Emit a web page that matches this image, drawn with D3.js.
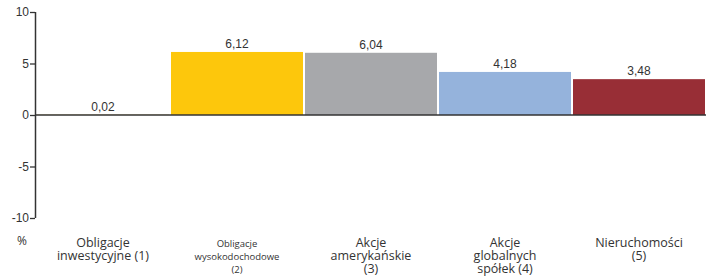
<!DOCTYPE html>
<html>
<head>
  <meta charset="utf-8">
  <title>Stopy zwrotu</title>
  <script src="https://d3js.org/d3.v7.min.js"></script>
  <style>
    body { margin: 0; background: #fff; }
  </style>
</head>
<body>
  <svg width="710" height="277"></svg>
  <script>
    const categories = [
      ["Obligacje", "inwestycyjne (1)"],
      ["Obligacje", "wysokodochodowe", "(2)"],
      ["Akcje", "amerykańskie", "(3)"],
      ["Akcje", "globalnych", "spółek (4)"],
      ["Nieruchomości", "(5)"]
    ];
    const values = [0.02, 6.12, 6.04, 4.18, 3.48];
    const valueLabels = ["0,02", "6,12", "6,04", "4,18", "3,48"];
    const colors = ["#fdc70c", "#fdc70c", "#a7a8ab", "#95b3dc", "#982e36"];
    const labelSizes = [12.5, 9.5, 12.5, 12.5, 12.5];
    const yTicks = [-10, -5, 0, 5, 10];

    const svg = d3.select("svg");
    const ids = d3.range(values.length);

    const x = d3.scaleBand().domain(ids).range([37, 705]).paddingInner(0.015).paddingOuter(0);
    const y = d3.scaleLinear().domain([-10, 10]).range([218, 12]);

    // bars
    svg.selectAll("rect.bar")
      .data(ids)
      .enter()
      .append("rect")
      .attr("class", "bar")
      .attr("x", i => x(i))
      .attr("width", x.bandwidth())
      .attr("y", i => y(Math.max(0, values[i])))
      .attr("height", i => Math.abs(y(values[i]) - y(0)))
      .attr("fill", (i) => colors[i]);

    // value labels
    svg.selectAll("text.val")
      .data(ids)
      .enter()
      .append("text")
      .attr("class", "val")
      .attr("x", i => x(i) + x.bandwidth() / 2)
      .attr("y", i => y(Math.max(0, values[i])) - 4)
      .attr("text-anchor", "middle")
      .attr("font-family", "Liberation Sans, Arial, sans-serif")
      .attr("font-size", 12)
      .attr("fill", "#333")
      .text(i => valueLabels[i]);

    // y axis
    const yAxis = d3.axisLeft(y).tickValues(yTicks).tickSize(5).tickPadding(1)
      .tickFormat(d => String(d));
    const ax = svg.append("g").attr("transform", "translate(35,0)").call(yAxis);
    ax.select(".domain").attr("stroke", "#333").attr("stroke-width", 1.5).attr("d", `M0.5,${y(10)}V${y(-10)}`);
    ax.selectAll(".tick line").attr("stroke", "#333").attr("stroke-width", 1.3);
    ax.selectAll(".tick text")
      .attr("font-family", "Liberation Sans, Arial, sans-serif")
      .attr("font-size", 12)
      .attr("fill", "#333");

    // zero line
    svg.append("line")
      .attr("x1", 35).attr("x2", 706)
      .attr("y1", y(0)).attr("y2", y(0))
      .attr("stroke", "#333")
      .attr("stroke-width", 1.5);

    // unit
    svg.append("text")
      .attr("x", 22).attr("y", 245)
      .attr("text-anchor", "middle")
      .attr("font-family", "Open Sans, sans-serif")
      .attr("font-size", 12)
      .attr("fill", "#333")
      .text("%");

    // category labels, one text per line
    ids.forEach(i => {
      categories[i].forEach((line, k) => {
        svg.append("text")
          .attr("x", x(i) + x.bandwidth() / 2)
          .attr("y", 247 + k * 13)
          .attr("text-anchor", "middle")
          .attr("font-family", "Open Sans, sans-serif")
          .attr("font-size", labelSizes[i])
          .attr("fill", "#333")
          .text(line);
      });
    });
  </script>
</body>
</html>
